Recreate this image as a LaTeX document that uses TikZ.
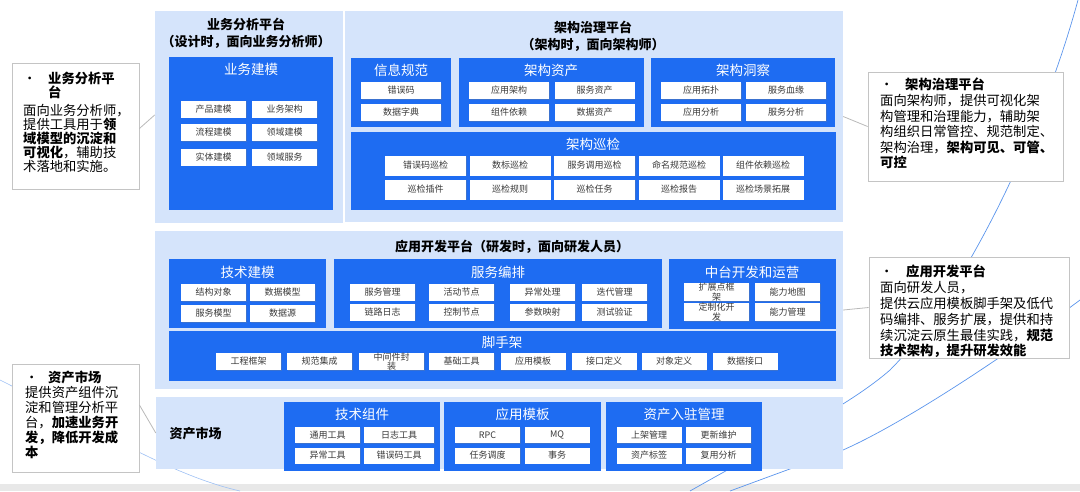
\documentclass[tikz,border=0pt]{standalone}
\usepackage{fontspec}
\setmainfont{Noto Sans CJK SC}
\usetikzlibrary{fit,shadows,calc}
\definecolor{pale}{HTML}{D5E4FB}
\definecolor{vivid}{HTML}{1E6CF2}
\definecolor{ink}{HTML}{3A3A3A}
\definecolor{rim}{HTML}{C4C4C4}
\definecolor{swoosh}{HTML}{5B95EC}

\begin{document}
\begin{tikzpicture}[x=1pt, y=-1pt,
    pan/.style={fill=pale, inner sep=0pt},
    grp/.style={fill=vivid, inner sep=0pt},
    head/.style={text=white, font=\fontsize{13.5}{15}\selectfont},
    ptitle/.style={font=\fontsize{13}{17}\selectfont\bfseries, align=center},
    item/.style={fill=white, text=ink, minimum width=65pt, minimum height=17pt,
        inner sep=0pt, align=center, font=\fontsize{9}{9.5}\selectfont,
        drop shadow={shadow xshift=0.7pt, shadow yshift=-0.9pt, opacity=0.3}},
    note/.style={draw=rim, line width=0.8pt, fill=white, inner sep=0pt},
    notetext/.style={anchor=north west, align=left, inner sep=0pt,
        font=\fontsize{13.3}{15.6}\selectfont},
    link/.style={draw=gray!55, line width=0.8pt}]

    \useasboundingbox (0,0) rectangle (1080,491);
    \fill[gray!18] (0,484) rectangle (1080,491);
    \draw[swoosh, line width=0.7pt] (1078,0) .. controls (1040,140) and (960,300) .. (890,370)
        .. controls (850,405) and (780,440) .. (690,491);
    \draw[swoosh, line width=0.7pt] (1080,300) .. controls (1000,360) and (900,425) .. (843,450)
        .. controls (800,465) and (760,480) .. (730,491);
    \draw[swoosh!60, line width=0.6pt] (0,380) .. controls (100,430) and (170,475) .. (240,491);

    \node[pan, fit={(155,11) (343,223)}] (ba) {};
    \node[pan, fit={(345,11) (843,222)}] (ag) {};
    \node[pan, fit={(155,231) (843,389)}] (ad) {};
    \node[pan, fit={(156,397) (843,469)}] (am) {};

    \node[ptitle] (bat) at (246,33.5) {业务分析平台\\（设计时，面向业务分析师）};
    \node[ptitle] (agt) at (593,36.5) {架构治理平台\\（架构时，面向架构师）};
    \node[ptitle] (adt) at (512,247) {应用开发平台（研发时，面向研发人员）};
    \node[ptitle, anchor=west] (amt) at (166,434) {资产市场};

    \node[grp, fit={(169,57) (333,210)}] (bm) {};
    \node[head] (bmh) at (251,69) {业务建模};
    \foreach \t/\x/\y [count=\i] in {产品建模/213.5/109, 业务架构/284.5/109,
        流程建模/213.5/132.5, 领域建模/284.5/132.5, 实体建模/213.5/157, 领域服务/284.5/157}
        \node[item] (bm\i) at (\x,\y) {\t};

    \node[grp, fit={(351,58) (451,127)}] (is) {};
    \node[head] (ish) at (401,70) {信息规范};
    \foreach \t/\y [count=\i] in {错误码/90.5, 数据字典/112.5}
        \node[item, minimum width=80pt] (is\i) at (401,\y) {\t};

    \node[grp, fit={(459,58) (644,127)}] (aa) {};
    \node[head] (aah) at (551,70) {架构资产};
    \foreach \t/\x/\y [count=\i] in {应用架构/509/90.5, 服务资产/594.5/90.5,
        组件依赖/509/112.5, 数据资产/594.5/112.5}
        \node[item, minimum width=80pt] (aa\i) at (\x,\y) {\t};

    \node[grp, fit={(651,58) (835,127)}] (ai) {};
    \node[head] (aih) at (743,70) {架构洞察};
    \foreach \t/\x/\y [count=\i] in {应用拓扑/701/90.5, 服务血缘/786/90.5,
        应用分析/701/112.5, 服务分析/786/112.5}
        \node[item, minimum width=80pt] (ai\i) at (\x,\y) {\t};

    \node[grp, fit={(351,132) (836,210)}] (ac) {};
    \node[head] (ach) at (593,144) {架构巡检};
    \foreach \t/\x/\y [count=\i] in {错误码巡检/425.5/165.5, 数标巡检/510/165.5,
        服务调用巡检/594.5/165.5, 命名规范巡检/679/165.5, 组件依赖巡检/763/165.5,
        巡检插件/425.5/189.5, 巡检规则/510/189.5, 巡检任务/594.5/189.5,
        巡检报告/679/189.5, 巡检场景拓展/763/189.5}
        \node[item, minimum width=81pt, minimum height=20pt] (ac\i) at (\x,\y) {\t};

    \node[grp, fit={(169,259) (326,328)}] (tm) {};
    \node[head] (tmh) at (247.5,272) {技术建模};
    \foreach \t/\x/\y [count=\i] in {结构对象/213.5/292.5, 数据模型/282.5/292.5,
        服务模型/213.5/313.5, 数据源/282.5/313.5}
        \node[item] (tm\i) at (\x,\y) {\t};

    \node[grp, fit={(334,259) (662,328)}] (so) {};
    \node[head] (soh) at (498,272) {服务编排};
    \foreach \t/\x/\y [count=\i] in {服务管理/382.5/292, 活动节点/461.5/292,
        异常处理/542.5/292, 迭代管理/614.5/292, 链路日志/382.5/312,
        控制节点/461.5/312, 参数映射/542.5/312, 测试验证/614.5/312}
        \node[item] (so\i) at (\x,\y) {\t};

    \node[grp, fit={(669,259) (836,329)}] (mo) {};
    \node[head] (moh) at (752,272) {中台开发和运营};
    \foreach \t/\x/\y [count=\i] in {{扩展点框\\架}/716.5/292, 能力地图/787.5/292,
        {定制化开\\发}/716.5/312, 能力管理/787.5/312}
        \node[item, minimum height=18pt] (mo\i) at (\x,\y) {\t};

    \node[grp, fit={(169,331) (836,381)}] (sf) {};
    \node[head] (sfh) at (502,342) {脚手架};
    \foreach \t/\x [count=\i] in {工程框架/248.5, 规范集成/319.5, {中间件封\\装}/391.5,
        基础工具/461.5, 应用模板/533, 接口定义/604, 对象定义/674, 数据接口/745}
        \node[item] (sf\i) at (\x,361.5) {\t};

    \node[grp, fit={(284,402) (440,471)}] (tc) {};
    \node[head] (tch) at (362,414) {技术组件};
    \foreach \t/\x/\w/\y [count=\i] in {通用工具/327.5/65/435, 日志工具/399/70/435,
        异常工具/327.5/65/455.5, 错误码工具/399/70/455.5}
        \node[item, minimum width=\w pt, minimum height=16pt] (tc\i) at (\x,\y) {\t};

    \node[grp, fit={(444,402) (601,471)}] (at) {};
    \node[head] (ath) at (522.5,414) {应用模板};
    \foreach \t/\x/\y [count=\i] in {RPC/487.5/435, MQ/557/435, 任务调度/487.5/455.5, 事务/557/455.5}
        \node[item, minimum height=16pt] (at\i) at (\x,\y) {\t};

    \node[grp, fit={(606,402) (762,471)}] (ae) {};
    \node[head] (aeh) at (684,414) {资产入驻管理};
    \foreach \t/\x/\y [count=\i] in {上架管理/649/435, 更新维护/718.5/435,
        资产标签/649/455.5, 复用分析/718.5/455.5}
        \node[item, minimum height=16pt] (ae\i) at (\x,\y) {\t};

    \node[note, fit={(12,63) (139,189)}] (n1) {};
    \node[notetext, font=\fontsize{13.3}{14}\selectfont] (n1t) at (23,72) {%
        \makebox[25pt][l]{•}\textbf{业务分析平}\\
        \hspace*{25pt}\textbf{台}\\[4pt]
        面向业务分析师，\\
        提供工具用于\textbf{领}\\
        \textbf{域模型的沉淀和}\\
        \textbf{可视化}，辅助技\\
        术落地和实施。};

    \node[note, fit={(868,72) (1063,181)}] (n2) {};
    \node[notetext] (n2t) at (880,78) {%
        \makebox[25pt][l]{•}\textbf{架构治理平台}\\
        面向架构师，提供可视化架\\
        构管理和治理能力，辅助架\\
        构组织日常管控、规范制定、\\
        架构治理，\textbf{架构可见、可管、}\\
        \textbf{可控}};

    \node[note, fit={(869,257) (1069,358)}] (n3) {};
    \node[notetext, font=\fontsize{13.3}{15.8}\selectfont] (n3t) at (880,265) {%
        \makebox[26pt][l]{•}\textbf{应用开发平台}\\
        面向研发人员，\\
        提供云应用模板脚手架及低代\\
        码编排、服务扩展，提供和持\\
        续沉淀云原生最佳实践，\textbf{规范}\\
        \textbf{技术架构，提升研发效能}};

    \node[note, fit={(12,364) (139,472)}] (n4) {};
    \node[notetext, font=\fontsize{13.3}{15}\selectfont] (n4t) at (25,371) {%
        \makebox[23pt][l]{•}\textbf{资产市场}\\
        提供资产组件沉\\
        淀和管理分析平\\
        台，\textbf{加速业务开}\\
        \textbf{发，降低开发成}\\
        \textbf{本}};

    \draw[link] ($(n1.north east)!0.52!(n1.south east)$) -- ($(ba.north west)!0.49!(ba.south west)$);
    \draw[link] (ag.east) -- (n2.west);
    \draw[link] (ad.east) -- (n3.west);
    \draw[link] ($(n4.north east)!0.38!(n4.south east)$) -- (am.west);
\end{tikzpicture}
\end{document}
